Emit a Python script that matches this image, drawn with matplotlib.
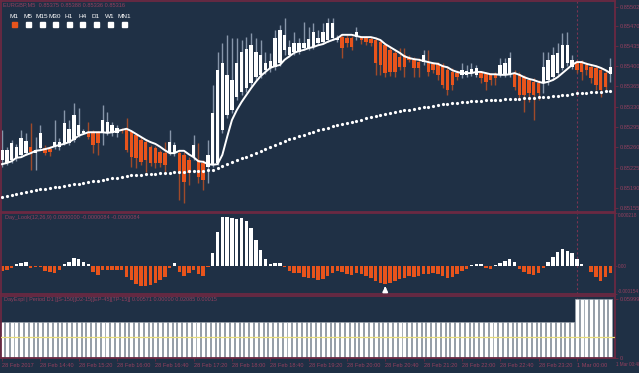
import numpy as np
import matplotlib
matplotlib.use("Agg")
import matplotlib.pyplot as plt
from matplotlib.patches import Rectangle

plt.rcParams['font.family'] = ['Liberation Sans', 'DejaVu Sans']

# EURGBP M5, prices in points (1e-5)
opens = np.array([
    85238, 85233, 85238, 85242, 85247, 85250, 85261, 85250, 85259, 85259,
    85257, 85261, 85261, 85267, 85267, 85273, 85281, 85285, 85286, 85286,
    85285, 85285, 85285, 85285, 85285, 85290, 85290, 85286, 85281, 85273,
    85269, 85261, 85259, 85252, 85250, 85250, 85250, 85250, 85247, 85238,
    85243, 85238, 85233, 85226, 85230, 85233, 85290, 85316, 85324, 85347,
    85355, 85362, 85371, 85381, 85385, 85393, 85397, 85398, 85405, 85428,
    85419, 85424, 85424, 85431, 85431, 85433, 85440, 85442, 85445, 85448,
    85445, 85450, 85448, 85448, 85450, 85448, 85448, 85447, 85445, 85442,
    85436, 85428, 85423, 85416, 85419, 85414, 85411, 85407, 85407, 85405,
    85404, 85404, 85402, 85393, 85390, 85388, 85385, 85385, 85388, 85385,
    85388, 85386, 85385, 85386, 85385, 85385, 85385, 85386, 85386, 85381,
    85376, 85373, 85371, 85371, 85376, 85381, 85388, 85397, 85405, 85398,
    85407, 85405, 85402, 85398, 85397, 85393, 85388, 85386]) / 1e5
highs = np.array([
    85290, 85261, 85273, 85266, 85290, 85285, 85302, 85278, 85298, 85264,
    85262, 85307, 85276, 85324, 85307, 85336, 85328, 85292, 85304, 85290,
    85288, 85333, 85321, 85304, 85298, 85293, 85311, 85290, 85285, 85278,
    85273, 85264, 85262, 85255, 85269, 85290, 85269, 85255, 85252, 85243,
    85281, 85267, 85238, 85273, 85367, 85424, 85440, 85454, 85448, 85448,
    85445, 85450, 85457, 85448, 85445, 85424, 85423, 85462, 85471, 85483,
    85445, 85459, 85448, 85476, 85467, 85474, 85462, 85474, 85483, 85483,
    85454, 85454, 85454, 85452, 85467, 85452, 85452, 85450, 85450, 85445,
    85440, 85433, 85428, 85431, 85431, 85419, 85416, 85414, 85428, 85428,
    85407, 85407, 85405, 85400, 85397, 85393, 85405, 85402, 85405, 85402,
    85392, 85390, 85388, 85390, 85414, 85414, 85424, 85393, 85390, 85385,
    85380, 85380, 85376, 85424, 85424, 85433, 85440, 85457, 85459, 85419,
    85411, 85411, 85407, 85404, 85402, 85398, 85393, 85414]) / 1e5
lows = np.array([
    85226, 85230, 85233, 85236, 85243, 85247, 85221, 85221, 85255, 85247,
    85245, 85257, 85255, 85264, 85264, 85269, 85278, 85283, 85274, 85250,
    85247, 85264, 85281, 85280, 85278, 85285, 85252, 85226, 85224, 85230,
    85217, 85228, 85224, 85226, 85217, 85247, 85245, 85169, 85164, 85195,
    85238, 85198, 85186, 85198, 85226, 85230, 85285, 85311, 85319, 85342,
    85350, 85355, 85366, 85376, 85380, 85386, 85390, 85393, 85400, 85419,
    85416, 85419, 85421, 85428, 85428, 85430, 85436, 85438, 85442, 85445,
    85442, 85414, 85433, 85428, 85445, 85438, 85436, 85435, 85385, 85385,
    85381, 85383, 85381, 85393, 85381, 85407, 85381, 85381, 85402, 85383,
    85388, 85376, 85362, 85350, 85359, 85376, 85380, 85381, 85383, 85381,
    85371, 85359, 85367, 85367, 85381, 85381, 85381, 85359, 85342, 85321,
    85338, 85307, 85342, 85354, 85367, 85376, 85385, 85393, 85400, 85395,
    85388, 85376, 85385, 85371, 85359, 85347, 85359, 85373]) / 1e5
closes = np.array([
    85255, 85255, 85267, 85261, 85276, 85271, 85252, 85255, 85285, 85250,
    85252, 85269, 85269, 85302, 85292, 85316, 85298, 85288, 85278, 85264,
    85267, 85307, 85304, 85298, 85293, 85288, 85255, 85243, 85242, 85235,
    85238, 85233, 85233, 85233, 85230, 85269, 85264, 85217, 85200, 85216,
    85264, 85209, 85204, 85247, 85319, 85393, 85405, 85385, 85376, 85405,
    85424, 85430, 85436, 85424, 85419, 85405, 85409, 85448, 85462, 85454,
    85433, 85440, 85440, 85440, 85447, 85459, 85448, 85459, 85474, 85474,
    85448, 85431, 85440, 85433, 85459, 85445, 85442, 85440, 85405, 85402,
    85388, 85390, 85390, 85398, 85398, 85411, 85397, 85397, 85419, 85390,
    85393, 85385, 85367, 85359, 85367, 85381, 85393, 85392, 85395, 85397,
    85380, 85373, 85376, 85380, 85402, 85405, 85414, 85364, 85350, 85350,
    85354, 85350, 85354, 85398, 85411, 85419, 85423, 85436, 85436, 85411,
    85393, 85390, 85393, 85380, 85367, 85359, 85364, 85398]) / 1e5

fast_ma = np.array([
    85231, 85233, 85236, 85242, 85243, 85247, 85250, 85254, 85255, 85257,
    85259, 85262, 85264, 85266, 85269, 85274, 85280, 85283, 85286, 85286,
    85286, 85286, 85285, 85286, 85288, 85290, 85292, 85288, 85283, 85278,
    85273, 85269, 85266, 85261, 85255, 85250, 85250, 85254, 85254, 85248,
    85243, 85236, 85235, 85231, 85230, 85231, 85247, 85278, 85307, 85324,
    85338, 85350, 85362, 85373, 85383, 85390, 85397, 85400, 85402, 85411,
    85417, 85423, 85426, 85428, 85431, 85433, 85436, 85438, 85442, 85445,
    85448, 85454, 85454, 85454, 85452, 85450, 85450, 85450, 85448, 85445,
    85438, 85433, 85428, 85423, 85417, 85414, 85412, 85411, 85409, 85407,
    85405, 85404, 85400, 85398, 85393, 85390, 85388, 85388, 85388, 85390,
    85390, 85388, 85386, 85386, 85385, 85385, 85386, 85388, 85385, 85381,
    85378, 85376, 85373, 85371, 85373, 85376, 85381, 85388, 85395, 85402,
    85407, 85407, 85404, 85402, 85400, 85397, 85393, 85388]) / 1e5
slow_ma = np.array([
    85174, 85176, 85178, 85180, 85181, 85183, 85185, 85186, 85188, 85188,
    85190, 85192, 85192, 85193, 85195, 85197, 85197, 85198, 85200, 85202,
    85202, 85204, 85205, 85207, 85207, 85209, 85211, 85212, 85212, 85212,
    85214, 85214, 85214, 85216, 85216, 85216, 85217, 85217, 85217, 85219,
    85219, 85219, 85219, 85221, 85221, 85224, 85228, 85231, 85235, 85238,
    85242, 85243, 85247, 85250, 85254, 85257, 85261, 85264, 85267, 85271,
    85274, 85276, 85280, 85281, 85285, 85286, 85290, 85292, 85293, 85297,
    85298, 85300, 85302, 85304, 85305, 85307, 85311, 85312, 85314, 85316,
    85317, 85319, 85321, 85323, 85324, 85324, 85326, 85328, 85330, 85330,
    85331, 85333, 85335, 85335, 85336, 85336, 85338, 85338, 85340, 85340,
    85340, 85342, 85342, 85342, 85342, 85343, 85343, 85343, 85343, 85345,
    85345, 85345, 85347, 85347, 85347, 85348, 85348, 85350, 85350, 85352,
    85354, 85354, 85354, 85355, 85355, 85355, 85357, 85357]) / 1e5

# Day_Look histogram, units of 1e-6
day_look = np.array([
    -21, -16, -8, 8, 12, 16, -8, -6, -4, -21,
    -25, -29, -16, 8, 16, 33, 29, 16, 8, -25,
    -37, -16, -16, -16, -16, -16, -45, -58, -74, -82,
    -82, -78, -70, -58, -45, -8, 12, -25, -41, -29,
    -16, -33, -41, -4, 53, 140, 201, 201, 197, 193,
    197, 185, 156, 107, 66, 29, 8, 12, 12, -4,
    -21, -29, -29, -45, -49, -49, -58, -53, -41, -29,
    -21, -25, -33, -37, -29, -33, -41, -49, -62, -70,
    -74, -70, -62, -53, -49, -41, -45, -41, -33, -33,
    -29, -33, -41, -49, -45, -33, -21, -12, 4, 8,
    8, -8, -12, 4, 12, 21, 29, 16, -12, -25,
    -33, -37, -29, -8, 16, 37, 58, 70, 62, 53,
    29, 8, 2, -25, -45, -62, -45, -29]) * 1e-6
signal_bar = 80

# DayExpl: previous day value, then new day
day_expl = [0.0366] * 120 + [0.05999] * 8
day_expl_level = 0.02085

price_ticks = [0.85155, 0.85190, 0.85225, 0.85260, 0.85295, 0.85330,
               0.85365, 0.85400, 0.85435, 0.85470, 0.85502]
time_labels = ["28 Feb 2017", "28 Feb 14:40", "28 Feb 15:20", "28 Feb 16:00",
               "28 Feb 16:40", "28 Feb 17:20", "28 Feb 18:00", "28 Feb 18:40",
               "28 Feb 19:20", "28 Feb 20:00", "28 Feb 20:40", "28 Feb 21:20",
               "28 Feb 22:00", "28 Feb 22:40", "28 Feb 23:20", "1 Mar 00:00"]
timeframes = ["M1", "M5", "M15", "M30", "H1", "H4", "D1", "W1", "MN1"]

BG = '#1f3045'
FRAME = '#6b2942'
TXT = '#94405f'
BULL = '#ffffff'
BEAR = '#e8541c'
BULL_WICK = '#8796aa'
BEAR_WICK = '#a04a2a'

W, H = 639, 373
fig = plt.figure(figsize=(W / 100, H / 100), dpi=100, facecolor=BG)


def box(x0, y0, x1, y1):
    return [x0 / W, 1 - y1 / H, (x1 - x0) / W, (y1 - y0) / H]


ax1 = fig.add_axes(box(1, 1, 615, 212))
ax2 = fig.add_axes(box(1, 213, 615, 294))
ax3 = fig.add_axes(box(1, 296, 615, 358))

idx = np.arange(len(opens))
for ax in (ax1, ax2, ax3):
    ax.set_facecolor(BG)
    ax.set_xlim(-0.21, 127.97)
    for s in ax.spines.values():
        s.set_color(FRAME)
        s.set_linewidth(1.3)
    ax.yaxis.tick_right()
    ax.tick_params(axis='y', colors=FRAME, labelcolor=TXT, labelsize=4.1,
                   length=2, width=0.6, pad=1.5)
    ax.axvline(120, color='#7a3452', lw=0.8, ls=(0, (2, 2)), zorder=0)

# main candles
up = closes >= opens
wick_cols = np.where(up, BULL_WICK, BEAR_WICK)
body_cols = np.where(up, BULL, BEAR)
ax1.vlines(idx, lows, highs, colors=wick_cols, lw=1.0, zorder=2)
body_h = np.maximum(np.abs(closes - opens), 0.000012)
ax1.bar(idx, body_h, bottom=np.minimum(opens, closes), width=0.72,
        color=body_cols, linewidth=0, zorder=3)
ax1.plot(idx, fast_ma, color='white', lw=1.4, zorder=4)
ax1.plot(idx, slow_ma, 'o', ms=2.3, color='white', mec='none', zorder=4)
ax1.set_ylim(0.851485, 0.855123)
ax1.set_yticks(price_ticks)
ax1.set_yticklabels([f"{p:.5f}" for p in price_ticks])
ax1.set_xticks([])

# Day_Look histogram
ax2.bar(idx, day_look, width=0.72,
        color=[BULL if v > 0 else BEAR for v in day_look], linewidth=0, zorder=2)
ax2.annotate('', xy=(signal_bar, -72e-6), xytext=(signal_bar, -110e-6),
             arrowprops=dict(arrowstyle='-|>', color='white', lw=1.4,
                             mutation_scale=7), zorder=5)
ax2.set_ylim(-0.000115, 0.000218)
ax2.set_yticks([0.000218, 0, -0.000115])
ax2.set_yticklabels(['0.000218', '0.00', '-0.000154'])
ax2.tick_params(axis='y', labelsize=3.4, pad=0.8, length=1.5)
labs = ax2.get_yticklabels()
labs[0].set_va('top')
labs[2].set_va('bottom')
ax2.set_xticks([])

# DayExpl
ax3.bar(idx, day_expl, width=0.8, color='white', edgecolor='#9aa3ad',
        linewidth=0.5, zorder=2)
ax3.axhline(day_expl_level, color='#e6dc7a', lw=0.9, zorder=3)
ax3.set_ylim(0, 0.063)
ax3.set_yticks([0.05999, 0])
ax3.set_yticklabels(['0.05999', '0'])
ax3.set_xticks(np.arange(0, 121, 8))
ax3.set_xticklabels(time_labels, ha='left')
ax3.tick_params(axis='x', colors=FRAME, labelcolor=TXT, labelsize=4.1,
                length=2, width=0.6, pad=1.5)
fig.text(616 / W, 1 - 364 / H, "1 Mar 00:40", color=TXT, fontsize=3.3,
         va='center', ha='left')

# headers
fig.text(3 / W, 1 - 5 / H, "EURGBP,M5  0.85375 0.85388 0.85336 0.85316",
         color=TXT, fontsize=4.1, va='center')
fig.text(5 / W, 1 - 217 / H,
         "Day_Look(12,26,9) 0.0000000 -0.0000084 -0.0000084",
         color=TXT, fontsize=4.0, va='center')
fig.text(4 / W, 1 - 300 / H,
         "DayExpl | Period D1 [[S-150][D2-15][EP-45][TP-15]] 0.00571 0.00000 0.02085 0.00015",
         color=TXT, fontsize=4.0, va='center')

# timeframe buttons
tf_x = [14, 28, 42, 55, 69, 83, 96, 110, 124]
for name, x in zip(timeframes, tf_x):
    fig.text(x / W, 1 - 17 / H, name, color='white', fontsize=4.6,
             ha='center', va='center')
    fig.patches.append(Rectangle(((x - 2.5) / W, 1 - 27 / H), 5 / W, 5 / H,
                                 transform=fig.transFigure,
                                 color=BEAR if name == "M1" else 'white'))

fig.savefig("out.png", dpi=100, facecolor=BG)
